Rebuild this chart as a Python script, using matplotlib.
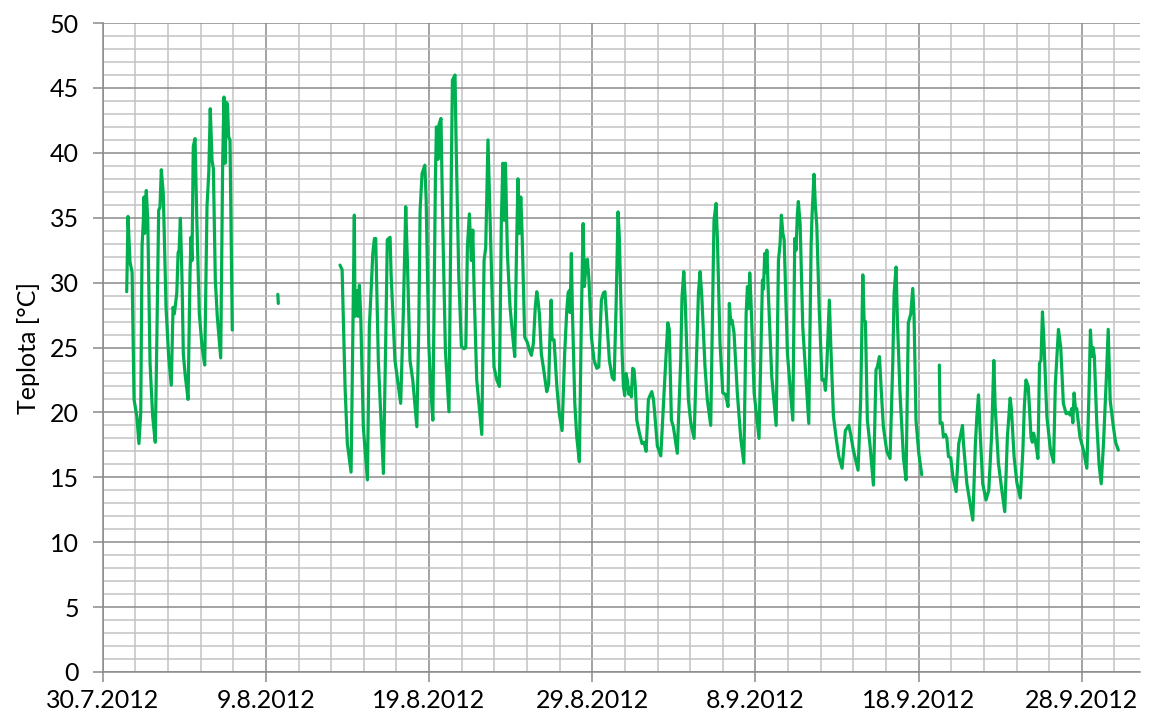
import numpy as np
import pandas as pd
import matplotlib
matplotlib.use('Agg')
import matplotlib.pyplot as plt
from matplotlib.ticker import MultipleLocator, FixedLocator

plt.rcParams['font.family'] = ['Lato', 'DejaVu Sans']

start = pd.Timestamp('2012-07-30')

# days since 30.7.2012 and temperature [°C], split where the logger had gaps
d1 = [1.47, 1.55, 1.67, 1.80, 1.92, 2.09, 2.22, 2.33, 2.41, 2.49, 2.53, 2.57, 2.67, 2.76,
      2.90, 3.06, 3.22, 3.31, 3.43, 3.51, 3.59, 3.71, 3.88, 4.04, 4.20, 4.31, 4.39, 4.54,
      4.62, 4.68, 4.76, 4.86, 4.94, 5.06, 5.23, 5.35, 5.41, 5.47, 5.55, 5.66, 5.76, 5.92,
      6.09, 6.25, 6.39, 6.50, 6.59, 6.70, 6.78, 6.90, 7.02, 7.23, 7.35, 7.43, 7.50, 7.56,
      7.64, 7.72, 7.80, 7.94]
t1 = [29.3, 35.1, 31.6, 30.8, 21.0, 19.7, 17.6, 20.0, 32.8, 34.8, 36.6, 33.8, 37.1, 34.8,
      23.8, 19.7, 17.7, 25.1, 35.6, 35.8, 38.7, 36.9, 28.1, 24.3, 22.1, 28.1, 27.6, 29.2,
      32.3, 32.5, 34.95, 30.2, 24.5, 22.8, 21.0, 30.7, 33.5, 31.7, 40.5, 41.1, 35.1, 27.6,
      25.0, 23.65, 35.85, 38.5, 43.4, 39.4, 38.8, 30.2, 27.4, 24.2, 39.2, 44.3, 39.2, 43.9,
      43.8, 41.2, 41.0, 26.35]

d2 = [10.73, 10.76]
t2 = [29.1, 28.4]

d3 = [14.54, 14.67, 14.75, 14.85, 14.99, 15.22, 15.36, 15.42, 15.46, 15.57, 15.65, 15.73,
      15.81, 15.97, 16.22, 16.34, 16.46, 16.55, 16.65, 16.73, 16.89, 17.20, 17.34, 17.44,
      17.53, 17.61, 17.67, 17.91, 18.12, 18.26, 18.42, 18.57, 18.67, 18.83, 19.00, 19.25,
      19.37, 19.45, 19.57, 19.74, 19.82, 19.98, 20.12, 20.23, 20.39, 20.45, 20.55, 20.61,
      20.73, 20.84, 21.00, 21.22, 21.37, 21.43, 21.59, 21.65, 21.82, 21.98, 22.14, 22.25,
      22.35, 22.47, 22.59, 22.68, 22.76, 22.92, 23.23, 23.37, 23.47, 23.61, 23.74, 23.98,
      24.15, 24.31, 24.43, 24.52, 24.60, 24.68, 24.80, 24.96, 25.13, 25.25, 25.37, 25.45,
      25.53, 25.62, 25.70, 25.86, 26.02, 26.15, 26.27, 26.39, 26.51, 26.60, 26.68, 26.76,
      26.88, 27.00, 27.21, 27.33, 27.41, 27.48, 27.54, 27.66, 27.83, 27.98, 28.15, 28.31,
      28.44, 28.52, 28.60, 28.64, 28.72, 28.78, 28.93, 29.05, 29.21, 29.33, 29.44, 29.52,
      29.62, 29.70, 29.79, 29.95, 30.11, 30.28, 30.40, 30.56, 30.68, 30.78, 30.89, 31.05,
      31.22, 31.34, 31.46, 31.58, 31.66, 31.83, 31.91, 31.99, 32.07, 32.15, 32.24, 32.32,
      32.40, 32.48, 32.56, 32.64, 32.73, 32.89, 33.05, 33.17, 33.30, 33.44, 33.54, 33.65,
      33.75, 33.83, 33.99, 34.20, 34.40, 34.63, 34.72, 34.85, 34.97, 35.21, 35.42, 35.50,
      35.61, 35.69, 35.89, 36.04, 36.24, 36.41, 36.51, 36.61, 36.71, 36.91, 37.05, 37.26,
      37.38, 37.46, 37.59, 37.67, 37.83, 38.00, 38.16, 38.32, 38.40, 38.49, 38.57, 38.69,
      38.89, 39.10, 39.29, 39.43, 39.51, 39.59, 39.65, 39.73, 39.92, 40.22, 40.43, 40.49,
      40.57, 40.65, 40.70, 40.79, 41.00, 41.27, 41.41, 41.51, 41.59, 41.68, 41.76, 41.96,
      42.29, 42.41, 42.49, 42.57, 42.63, 42.74, 42.90, 43.27, 43.41, 43.47, 43.59, 43.67,
      43.76, 43.91, 44.08, 44.21, 44.29, 44.37, 44.53, 44.62, 44.78, 44.95, 45.11, 45.31,
      45.51, 45.72, 45.84, 46.00, 46.29, 46.45, 46.58, 46.66, 46.74, 46.86, 47.02, 47.23,
      47.39, 47.47, 47.60, 47.72, 47.84, 48.05, 48.25, 48.42, 48.50, 48.62, 48.70, 48.86,
      49.07, 49.23, 49.37, 49.52, 49.64, 49.72, 49.84, 50.01, 50.19]
t3 = [31.35, 31.0, 27.1, 22.0, 17.6, 15.4, 29.2, 35.2, 27.4, 29.4, 27.4, 29.8,
      27.5, 18.9, 14.8, 26.6, 29.7, 32.25, 33.4, 33.4, 24.0, 15.3, 25.3, 33.3,
      33.4, 33.5, 30.7, 24.0, 22.0, 20.7, 27.6, 35.85, 31.7, 24.0, 22.5, 18.9,
      26.6, 35.6, 38.4, 39.05, 36.4, 25.3, 21.5, 19.4, 38.2, 42.0, 39.5, 42.2,
      42.65, 34.3, 24.8, 20.05, 39.2, 45.6, 46.0, 41.2, 30.45, 25.1, 24.9, 25.0,
      32.8, 35.3, 31.7, 34.05, 29.4, 22.5, 18.3, 31.7, 32.7, 41.0, 34.8, 23.5,
      22.5, 22.0, 34.8, 39.2, 34.8, 39.2, 32.25, 28.15, 25.8, 24.3, 33.3, 38.0,
      33.8, 36.6, 33.8, 25.8, 25.4, 24.8, 24.4, 25.3, 28.15, 29.3, 28.6, 27.6,
      24.5, 23.5, 21.6, 22.2, 26.1, 28.65, 25.6, 25.6, 22.0, 19.9, 18.6, 24.55,
      27.9, 29.2, 29.4, 27.7, 32.25, 28.0, 20.7, 18.1, 16.2, 27.1, 34.55, 29.7,
      31.5, 31.8, 30.4, 25.8, 24.0, 23.4, 23.5, 28.65, 29.2, 29.3, 27.1, 24.0,
      22.7, 22.5, 28.15, 35.45, 33.5, 24.55, 22.0, 21.3, 23.0, 22.5, 21.4, 21.9,
      21.2, 23.4, 23.3, 22.0, 19.4, 18.4, 17.6, 17.7, 17.0, 21.0, 21.3, 21.6,
      21.0, 19.9, 17.4, 16.65, 21.5, 26.9, 26.4, 19.4, 18.9, 16.85, 24.0, 28.9,
      30.85, 28.9, 21.0, 19.2, 18.0, 25.1, 29.3, 30.85, 29.0, 23.5, 21.0, 19.0,
      28.65, 34.8, 36.1, 33.3, 25.3, 21.5, 21.4, 20.45, 28.4, 26.9, 27.1, 26.1,
      21.5, 18.0, 16.1, 27.6, 29.7, 28.0, 30.75, 28.5, 21.5, 18.0, 30.2, 29.5,
      32.25, 30.8, 32.5, 29.2, 22.75, 19.0, 31.7, 33.0, 35.2, 33.8, 33.3, 24.55,
      19.4, 33.4, 32.5, 35.3, 36.25, 34.5, 26.6, 19.15, 32.8, 35.2, 38.35, 36.0,
      34.4, 27.9, 22.5, 22.5, 21.7, 23.5, 28.65, 25.1, 19.7, 18.0, 16.6, 15.7,
      18.6, 19.0, 18.3, 17.1, 15.55, 21.0, 30.6, 27.1, 27.0, 19.4, 17.5, 14.4,
      23.3, 23.5, 24.3, 21.5, 18.9, 17.0, 16.45, 24.0, 29.2, 31.2, 27.1, 21.5,
      16.5, 14.8, 26.9, 27.6, 29.55, 27.5, 19.4, 16.85, 15.2]

d4 = [51.27, 51.32, 51.44, 51.52, 51.64, 51.73, 51.83, 51.97, 52.10, 52.30, 52.46, 52.58,
      52.69, 52.75, 52.96, 53.12, 53.32, 53.48, 53.57, 53.67, 53.77, 53.93, 54.13, 54.30,
      54.48, 54.61, 54.69, 54.89, 55.10, 55.28, 55.44, 55.61, 55.69, 55.85, 56.02, 56.23,
      56.39, 56.48, 56.58, 56.72, 56.89, 56.97, 57.05, 57.17, 57.31, 57.41, 57.50, 57.59,
      57.68, 57.86, 58.07, 58.27, 58.38, 58.57, 58.71, 58.87, 59.04, 59.18, 59.28, 59.39,
      59.45, 59.53, 59.61, 59.69, 59.89, 60.10, 60.31, 60.43, 60.53, 60.61, 60.69, 60.77,
      60.92, 61.06, 61.19, 61.33, 61.50, 61.62, 61.74, 61.91, 62.07, 62.24]
t4 = [23.65, 19.15, 19.2, 18.1, 18.3, 18.0, 16.6, 16.5, 15.05, 13.9, 17.6, 18.3,
      19.0, 17.6, 14.5, 13.25, 11.7, 17.6, 19.7, 21.35, 18.5, 14.5, 13.25, 14.0,
      18.4, 24.0, 20.5, 16.1, 14.0, 12.35, 18.1, 21.1, 20.2, 16.6, 14.6, 13.4,
      17.1, 20.45, 22.5, 22.0, 18.1, 17.7, 18.4, 17.7, 16.45, 23.8, 24.0, 27.75,
      25.5, 19.7, 17.2, 16.15, 22.2, 26.4, 25.0, 20.7, 19.9, 20.0, 19.8, 20.3,
      19.2, 21.5, 20.3, 20.3, 18.1, 17.1, 15.7, 21.0, 26.35, 24.3, 25.0, 24.3,
      19.15, 16.0, 14.5, 17.6, 22.5, 26.4, 20.95, 19.15, 17.7, 17.1]

tick_days = [0, 10, 20, 30, 40, 50, 60]
tick_labels = [f'{d.day}.{d.month}.{d.year}' for d in (start + pd.to_timedelta(tick_days, unit='D'))]

fig = plt.figure(figsize=(11.49, 7.17), dpi=100)
ax = fig.add_axes([0.0894, 0.0628, 0.9028, 0.905])

green = '#00b050'
for d, t in [(d1, t1), (d2, t2), (d3, t3), (d4, t4)]:
    ax.plot(d, t, color=green, lw=2.3, solid_joinstyle='round', solid_capstyle='round', zorder=3)

ax.set_xlim(0, 63.57)
ax.set_ylim(0, 50)
ax.xaxis.set_major_locator(FixedLocator(tick_days))
ax.set_xticklabels(tick_labels)
ax.xaxis.set_minor_locator(MultipleLocator(2))
ax.yaxis.set_major_locator(MultipleLocator(5))
ax.yaxis.set_minor_locator(MultipleLocator(1))

ax.set_axisbelow(True)
ax.grid(which='major', color='#8a8a8a', lw=1.1)
ax.grid(which='minor', color='#c2c2c2', lw=1.1)

for s in ['top', 'right']:
    ax.spines[s].set_visible(False)
for s in ['left', 'bottom']:
    ax.spines[s].set_color('#8a8a8a')
    ax.spines[s].set_linewidth(1.1)

ax.tick_params(which='major', length=7, width=1.1, color='#8a8a8a', labelsize=18)
ax.tick_params(axis='y', which='major', pad=10)
ax.tick_params(axis='x', which='major', pad=5)
ax.tick_params(which='minor', length=0)

ax.set_ylabel('Teplota [°C]', fontsize=18, labelpad=7)

fig.savefig('out.png', dpi=100)
